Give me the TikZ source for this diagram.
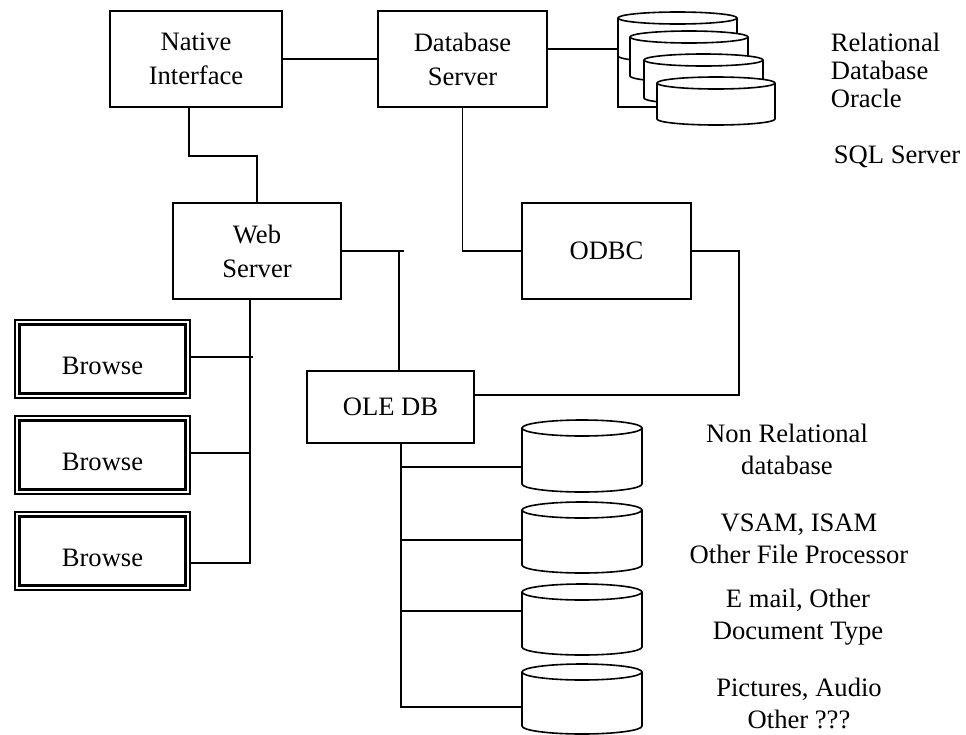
\documentclass[tikz,border=0pt]{standalone}
\usepackage{fontspec}
\setmainfont{Liberation Serif}
\newcommand\dbcyl[5]{%
  \filldraw[cylst] (#1,{-(#2)}) -- (#1,{-(#2)-(#4)}) arc[start angle=180,end angle=360,x radius={(#3)/2},y radius=#5] -- ({#1+#3},{-(#2)}) arc[start angle=0,end angle=180,x radius={(#3)/2},y radius=#5] -- cycle;
  \draw[cylst] (#1,{-(#2)}) arc[start angle=180,end angle=360,x radius={(#3)/2},y radius=#5];}
\begin{document}
\begin{tikzpicture}[x=1pt,y=1pt,line width=1.7pt,
  box/.style={draw,line width=1.7pt,fill=white,align=center,inner sep=0pt,font=\fontsize{26.6}{34}\selectfont},
  bbox/.style={draw,line width=1.4pt,minimum width=175pt,minimum height=78pt,inner sep=0pt},
  btext/.style={inner sep=0pt,font=\fontsize{26.6}{30}\selectfont},
  lbl/.style={inner sep=0pt,align=center,font=\fontsize{26.6}{32}\selectfont},
  lblt/.style={inner sep=0pt,align=left,font=\fontsize{26.6}{28}\selectfont},
  cylst/.style={draw,fill=white,line width=1.6pt}]
\useasboundingbox (0,0) rectangle (966,-734);

% boxes
\node[box,minimum width=172pt,minimum height=96pt] (ni) at (196,-59) {Native\\Interface};
\node[box,minimum width=169pt,minimum height=96pt] (db) at (462.5,-59) {Database\\Server};
\node[box,minimum width=168pt,minimum height=96pt] (ws) at (257,-251) {Web\\Server};
\node[box,minimum width=169pt,minimum height=96pt] (odbc) at (606.5,-251) {ODBC};
\node[box,minimum width=167pt,minimum height=72pt] (ole) at (390.5,-407) {OLE DB};

% browse boxes
\foreach \i/\y in {1/359,2/455,3/551}{
  \node[bbox] (b\i) at (102.5,-\y) {};
  \draw[line width=3pt] ([xshift=5pt,yshift=-5pt]b\i.north west) rectangle ([xshift=-5pt,yshift=5pt]b\i.south east);
  \node[btext] (bt\i) at (102.5,{-\y-7}) {Browse};
}

% relational stack bracket
\coordinate (stk) at (618,-49);
\coordinate (stkb) at (657,-107);
\draw (stk -| db.east) -- (stk);
\draw (618,-20) -- (618,-107) -- (stkb);

% stacked cylinders
\dbcyl{618}{18}{119}{38}{6}
\dbcyl{630}{37}{118}{39}{6}
\dbcyl{644}{60}{119}{38}{6}
\dbcyl{657}{83}{118}{36}{6}

% non relational cylinders
\dbcyl{522}{428}{120}{56}{8}
\dbcyl{522}{510}{120}{55}{8}
\dbcyl{522}{592}{120}{55}{8}
\dbcyl{522}{672}{120}{54}{8}
\coordinate (d1) at (522,-467);
\coordinate (d2) at (522,-540);
\coordinate (d3) at (522,-611);
\coordinate (d4) at (522,-707);

% connectors
\draw (ni.east) -- (db.west);
\draw ([xshift=-7pt]ni.south) -- ++(0,-48) -| (ws.north);
\draw (db.south) |- (odbc.west);
\draw (ws.east) -- ++(62,0);
\draw ([xshift=8.5pt]ole.north) |- (ws.east);
\draw (odbc.east) -- ++(47,0) |- ([yshift=12pt]ole.east);

\coordinate (wv) at ([xshift=-7pt]ws.south);
\draw (wv) |- ([yshift=-12pt]b3.east);
\draw ([yshift=2pt]b1.east) -- ([yshift=2pt,xshift=3pt]b1.east -| wv);
\draw ([yshift=2pt]b2.east) -- ([yshift=2pt]b2.east -| wv);

\coordinate (ov) at ([xshift=10.5pt]ole.south);
\draw (ov) |- (d4);
\draw (d1 -| ov) -- (d1);
\draw (d2 -| ov) -- (d2);
\draw (d3 -| ov) -- (d3);

% labels
\node[lblt,anchor=west] (rel) at (830,-70) {Relational\\Database\\Oracle};
\node[lblt,anchor=west] (sql) at (833,-157) {SQL Server};
\node[lbl] (l1) at (787,-449) {Non Relational\\database};
\node[lbl] (l2) at (799,-539) {VSAM, ISAM\\Other File Processor};
\node[lbl] (l3) at (798,-617) {E mail, Other\\Document Type};
\node[lbl] (l4) at (799,-703) {Pictures, Audio\\Other ???};
\end{tikzpicture}
\end{document}
